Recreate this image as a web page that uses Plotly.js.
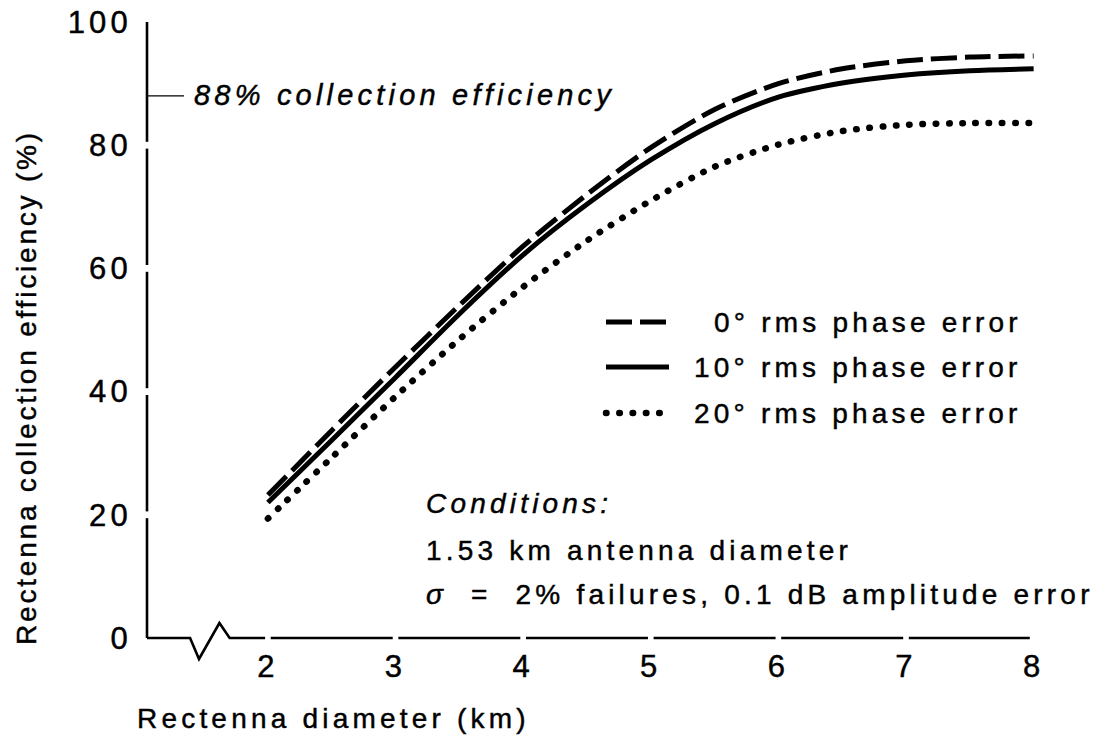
<!DOCTYPE html>
<html>
<head>
<meta charset="utf-8">
<script src="https://cdn.plot.ly/plotly-3.0.1.min.js"></script>
<style>
  html, body { margin: 0; padding: 0; background: #fff; }
  #chart { width: 1103px; height: 735px; }
  svg text { letter-spacing: 4.2px; stroke: #000; stroke-width: 0.45px; }
  .scatterlayer .trace:nth-child(3) .js-line { stroke-linecap: round; }
</style>
</head>
<body>
<div id="chart"></div>
<script>
// ---- data ----
const diameterKm = [2, 2.5, 3, 3.5, 4, 4.5, 5, 5.5, 6, 6.5, 7, 7.5, 8];
const eff0deg  = [23.2, 33.7, 44.0, 54.0, 63.6, 72.0, 79.6, 85.8, 90.0, 92.4, 93.7, 94.3, 94.5];
const eff10deg = [22.0, 32.1, 42.3, 52.6, 62.2, 70.4, 77.6, 83.5, 87.8, 90.1, 91.4, 92.1, 92.4];
const eff20deg = [19.4, 29.3, 39.2, 48.5, 57.0, 64.5, 71.0, 76.5, 80.1, 82.3, 83.3, 83.6, 83.6];
const seriesNames = ['0° rms phase error', '10° rms phase error', '20° rms phase error'];
const xTicks = [2, 3, 4, 5, 6, 7, 8];
const yTicks = [0, 20, 40, 60, 80, 100];
const markerLevel = 88;
const markerLabel = '<i>88% collection efficiency</i>';
const conditions = ['<i>Conditions:</i>', '1.53 km antenna diameter', '<i>σ</i>\u00A0\u00A0=\u00A0\u00A02% failures, 0.1 dB amplitude error'];
const xTitle = 'Rectenna diameter (km)';
const yTitle = 'Rectenna collection efficiency (%)';

// ---- layout geometry ----
const L = 147, T = 22, W = 893, H = 616, B = T + H;
const xRange = [1.0525, 8.05];
function pxX(p) { return (p - L) / W; }
function pxY(p) { return (B - p) / H; }

const FONT = 'Liberation Sans, Arial, Helvetica, sans-serif';
const FS = 28;
const black = '#000';

const styles = [
  { color: black, width: 5, dash: '26px,8px' },
  { color: black, width: 5, dash: 'solid' },
  { color: black, width: 6.5, dash: '0.5px,12.8px' }
];
const seriesY = [eff0deg, eff10deg, eff20deg];

const traces = seriesY.map((ys, i) => ({
  type: 'scatter', mode: 'lines', x: diameterKm, y: ys, name: seriesNames[i],
  line: { color: styles[i].color, width: styles[i].width, dash: styles[i].dash, shape: 'spline', smoothing: 0.8 },
  hoverinfo: 'skip', showlegend: false
}));

// ---- axis decorations (broken axis lines) ----
const shapes = [];
const axW = 2.6;
const yGap = 0.55;
let yStart = 0;
yTicks.slice(1, -1).forEach(v => {
  shapes.push({ type: 'line', xref: 'paper', yref: 'y', x0: 0, x1: 0, y0: yStart, y1: v - yGap, line: { color: black, width: axW } });
  yStart = v + yGap;
});
shapes.push({ type: 'line', xref: 'paper', yref: 'y', x0: 0, x1: 0, y0: yStart, y1: 100.3, line: { color: black, width: axW } });
// 88% marker tick
shapes.push({ type: 'line', xref: 'paper', yref: 'y', x0: 0, x1: pxX(184), y0: markerLevel, y1: markerLevel, line: { color: black, width: 1.3 } });
// x baseline with zigzag break and gaps at the ticks
const xGap = 0.022;
const zz0 = 1.39, zz1 = 1.46, zz2 = 1.62, zz3 = 1.70;
const up = 15 / H, down = -21 / H;
shapes.push({ type: 'path', xref: 'x', yref: 'paper',
  path: `M${xRange[0]},0 L${zz0},0 L${zz1},${down} L${zz2},${up} L${zz3},0 L${xTicks[0] - xGap},0`,
  line: { color: black, width: axW } });
for (let i = 0; i < xTicks.length - 1; i++) {
  const a = xTicks[i] + xGap, b = (i === xTicks.length - 2) ? xTicks[i + 1] - 0.03 : xTicks[i + 1] - xGap;
  shapes.push({ type: 'line', xref: 'x', yref: 'paper', x0: a, x1: b, y0: 0, y1: 0, line: { color: black, width: axW } });
}
// legend samples
const legendRowsPx = [322, 367, 413];
let dottedIdx = -1;
legendRowsPx.forEach((py, i) => {
  if (i === 2) dottedIdx = shapes.length;
  shapes.push({ type: 'line', xref: 'paper', yref: 'paper', x0: pxX(606), x1: pxX(669), y0: pxY(py), y1: pxY(py),
    line: { color: styles[i].color, width: styles[i].width, dash: styles[i].dash } });
});

// ---- annotations ----
const ann = [];
const baseFont = { family: FONT, size: FS, color: black };
const tickFont = { family: FONT, size: 31, color: black };
ann.push({ xref: 'paper', yref: 'paper', x: pxX(192), y: pxY(95), xanchor: 'left', yanchor: 'middle', text: markerLabel, showarrow: false, font: { family: FONT, size: 29, color: black } });
const condY = [503, 550, 594];
conditions.forEach((t, i) => {
  ann.push({ xref: 'paper', yref: 'paper', x: pxX(424), y: pxY(condY[i]), xanchor: 'left', yanchor: 'middle', text: t, showarrow: false, font: baseFont });
});
seriesNames.forEach((t, i) => {
  ann.push({ xref: 'paper', yref: 'paper', x: pxX(1024), y: pxY(legendRowsPx[i]), xanchor: 'right', yanchor: 'middle', text: t, showarrow: false, font: baseFont });
});
ann.push({ xref: 'paper', yref: 'paper', x: pxX(135), y: pxY(718), xanchor: 'left', yanchor: 'middle', text: xTitle, showarrow: false, font: baseFont });
ann.push({ xref: 'paper', yref: 'paper', x: pxX(27), y: pxY(388), xanchor: 'center', yanchor: 'middle', textangle: -90,
  text: '<span style="letter-spacing:2.8px">' + yTitle + '</span>', showarrow: false, font: baseFont });

const layout = {
  width: 1103, height: 735,
  margin: { l: L, r: 1103 - L - W, t: T, b: 735 - B, pad: 0 },
  paper_bgcolor: '#fff', plot_bgcolor: '#fff',
  showlegend: false,
  font: baseFont,
  xaxis: { range: xRange, showline: false, showgrid: false, zeroline: false, ticks: '',
    tickmode: 'array', tickvals: xTicks, ticktext: xTicks.map(String), tickfont: tickFont, ticklabelstandoff: 7, fixedrange: true },
  yaxis: { range: [0, 100], showline: false, showgrid: false, zeroline: false, ticks: '',
    tickmode: 'array', tickvals: yTicks, ticktext: yTicks.map(String), tickfont: tickFont, ticklabelstandoff: 14, fixedrange: true },
  shapes: shapes,
  annotations: ann
};

Plotly.newPlot('chart', traces, layout, { displayModeBar: false, staticPlot: true }).then(() => {
  const st = document.createElement('style');
  st.textContent = `.shapelayer path[data-index="${dottedIdx}"] { stroke-linecap: round; }`;
  document.head.appendChild(st);
});
</script>
</body>
</html>
